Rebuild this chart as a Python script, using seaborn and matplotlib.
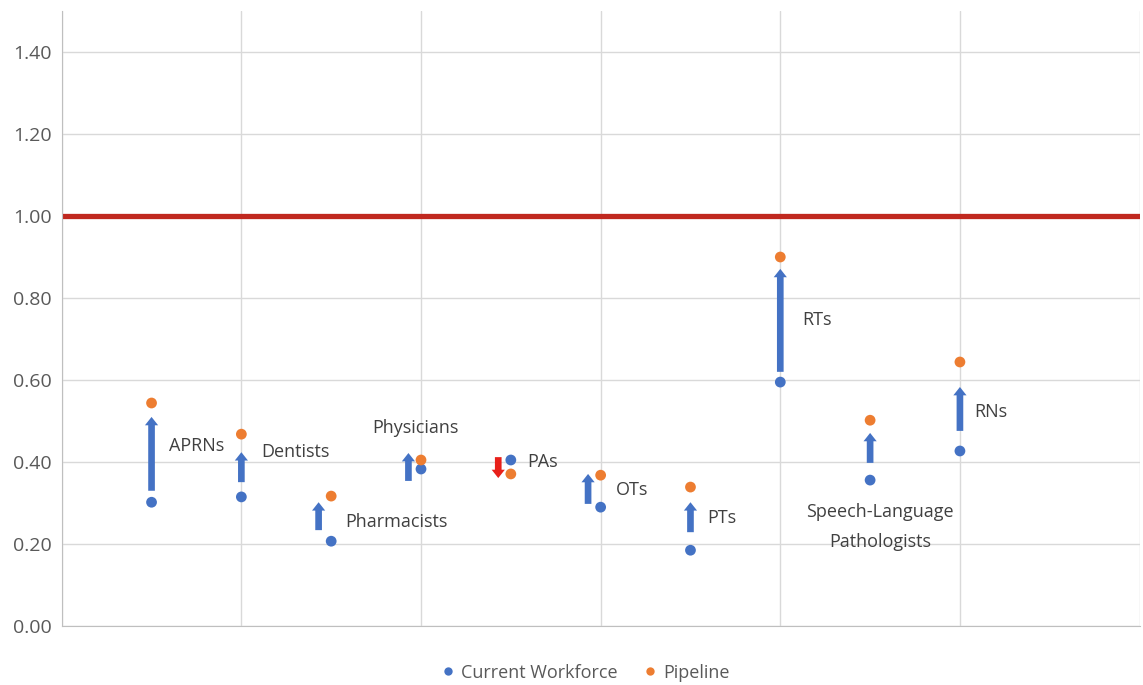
import numpy as np
import pandas as pd
import seaborn as sns
from matplotlib import pyplot as plt

# values
professions = ['APRNs', 'Dentists', 'Pharmacists', 'Physicians', 'PAs', 'OTs',
               'PTs', 'RTs', 'Speech-Language\nPathologists', 'RNs']
current = [0.302, 0.315, 0.207, 0.383, 0.405, 0.290, 0.185, 0.595, 0.356, 0.427]
pipeline = [0.544, 0.468, 0.317, 0.405, 0.371, 0.368, 0.339, 0.900, 0.502, 0.644]
# hand-drawn arrows: start and end value of each arrow
arrow_start = [0.330, 0.351, 0.234, 0.354, 0.412, 0.298, 0.229, 0.620, 0.398, 0.476]
arrow_end = [0.510, 0.424, 0.302, 0.422, 0.361, 0.371, 0.302, 0.871, 0.471, 0.583]
parity = 1.0

# label placement (layout): x offset from the point, y in data units, alignment
label_dx = [0.19, 0.22, 0.16, -0.06, 0.18, 0.17, 0.19, 0.25, 0.11, 0.16]
label_y = [0.439, 0.424, 0.254, 0.483, 0.400, 0.332, 0.263, 0.746, 0.241, 0.522]
label_ha = ['left', 'left', 'left', 'center', 'left', 'left', 'left', 'left', 'center', 'left']

blue = '#4472C4'
orange = '#ED7D31'
red_line = '#C0281F'
red_arrow = '#E8201A'
grid_col = '#D9D9D9'
text_col = '#404040'

sns.set_style('white')
plt.rcParams['font.family'] = ['Open Sans', 'DejaVu Sans']

x = np.arange(1, len(professions) + 1)
df = pd.DataFrame({
    'x': np.concatenate([x, x]),
    'value': current + pipeline,
    'series': ['Current Workforce'] * len(x) + ['Pipeline'] * len(x),
})

fig = plt.figure(figsize=(11.43, 6.85), dpi=100)
ax = fig.add_axes([0.054, 0.086, 0.943, 0.898])

# parity line
ax.axhline(parity, color=red_line, lw=3.8, zorder=2)

# arrows
for i in range(len(x)):
    diff = abs(pipeline[i] - current[i])
    xa = x[i] - 0.14 if diff < 0.13 else x[i]
    col = blue if pipeline[i] >= current[i] else red_arrow
    ax.annotate('', xy=(xa, arrow_end[i]), xytext=(xa, arrow_start[i]),
                arrowprops=dict(arrowstyle='simple,head_width=0.95,head_length=0.6,tail_width=0.48',
                                color=col, lw=0, shrinkA=0, shrinkB=0, mutation_scale=10),
                zorder=3)

sns.scatterplot(data=df, x='x', y='value', hue='series', palette=[blue, orange],
                s=60, edgecolor='none', ax=ax, zorder=4, legend=True)

for i in range(len(x)):
    ax.text(x[i] + label_dx[i], label_y[i], professions[i], ha=label_ha[i], va='center',
            fontsize=13, color=text_col, linespacing=1.85, zorder=5)

ax.set_xlim(0, 12)
ax.set_ylim(0, 1.5)
ax.set_xticks(np.arange(0, 13, 2))
ax.set_xticklabels([])
ax.set_yticks(np.arange(0, 1.41, 0.2))
ax.set_yticklabels([f'{v:.2f}' for v in np.arange(0, 1.41, 0.2)], fontsize=14, color='#595959')
ax.tick_params(length=0, pad=7)
ax.grid(True, color=grid_col, lw=1)
ax.set_axisbelow(True)
ax.set_xlabel('')
ax.set_ylabel('')
for side in ['top', 'right']:
    ax.spines[side].set_visible(False)
ax.spines['left'].set_color('#BFBFBF')
ax.spines['bottom'].set_color('#BFBFBF')

handles, labels = ax.get_legend_handles_labels()
ax.get_legend().remove()
for h in handles:
    h.set_markersize(6)
fig.legend(handles, labels, loc='center', bbox_to_anchor=(0.512, 0.018), ncol=2, frameon=False,
           fontsize=13, handlelength=0.8, handletextpad=0.3, columnspacing=1.4, labelcolor='#595959')

fig.savefig('out.png', dpi=100)
